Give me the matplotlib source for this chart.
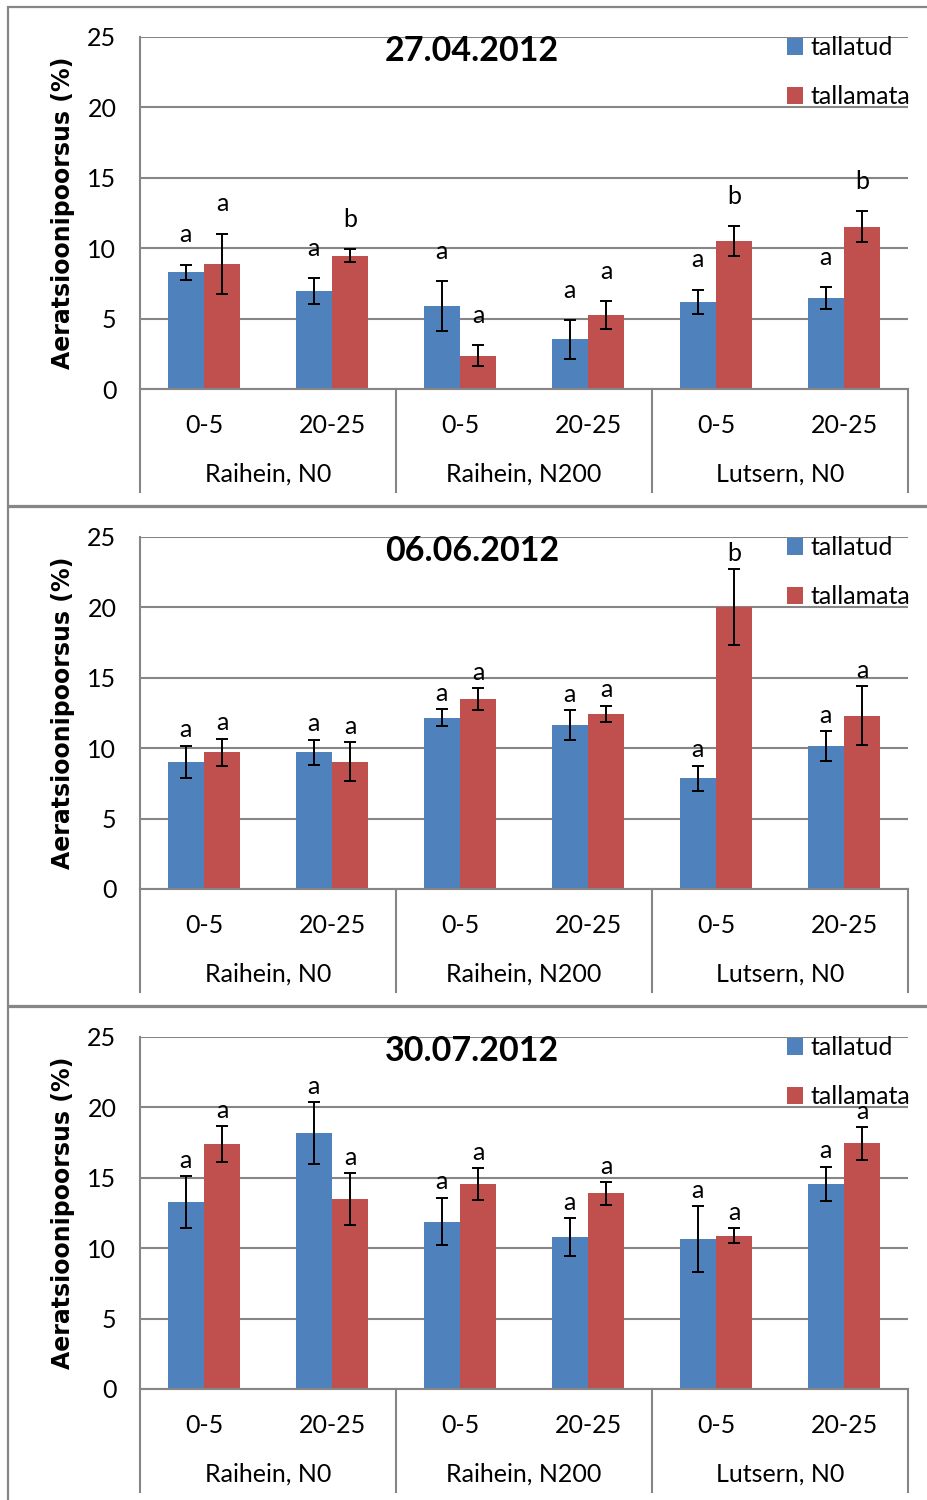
import numpy as np
import matplotlib
matplotlib.use('Agg')
import matplotlib.pyplot as plt
from matplotlib.patches import Rectangle

plt.rcParams['font.family'] = ['Lato', 'DejaVu Sans']

# categories
depths = ['0-5', '20-25', '0-5', '20-25', '0-5', '20-25']
groups = ['Raihein, N0', 'Raihein, N200', 'Lutsern, N0']
dates = ['27.04.2012', '06.06.2012', '30.07.2012']

# aeration porosity (%), mean and error per date
tallatud_0427 = [8.3, 6.95, 5.88, 3.52, 6.19, 6.45]
tallatud_0427_err = [0.53, 0.9, 1.77, 1.36, 0.87, 0.78]
tallamata_0427 = [8.88, 9.48, 2.36, 5.25, 10.49, 11.53]
tallamata_0427_err = [2.15, 0.48, 0.76, 0.97, 1.06, 1.11]
letters_t_0427 = ['a', 'a', 'a', 'a', 'a', 'a']
letters_m_0427 = ['a', 'b', 'a', 'a', 'b', 'b']

tallatud_0606 = [9.03, 9.71, 12.17, 11.63, 7.85, 10.14]
tallatud_0606_err = [1.16, 0.9, 0.6, 1.06, 0.9, 1.05]
tallamata_0606 = [9.71, 9.05, 13.47, 12.45, 20.0, 12.31]
tallamata_0606_err = [0.96, 1.4, 0.78, 0.57, 2.7, 2.1]
letters_t_0606 = ['a', 'a', 'a', 'a', 'a', 'a']
letters_m_0606 = ['a', 'a', 'a', 'a', 'b', 'a']

tallatud_0730 = [13.28, 18.19, 11.89, 10.8, 10.66, 14.58]
tallatud_0730_err = [1.84, 2.2, 1.69, 1.35, 2.32, 1.2]
tallamata_0730 = [17.39, 13.49, 14.56, 13.89, 10.89, 17.44]
tallamata_0730_err = [1.3, 1.84, 1.11, 0.8, 0.53, 1.16]
letters_t_0730 = ['a', 'a', 'a', 'a', 'a', 'a']
letters_m_0730 = ['a', 'a', 'a', 'a', 'a', 'a']

panels = [
    (dates[0], tallatud_0427, tallatud_0427_err, tallamata_0427, tallamata_0427_err, letters_t_0427, letters_m_0427),
    (dates[1], tallatud_0606, tallatud_0606_err, tallamata_0606, tallamata_0606_err, letters_t_0606, letters_m_0606),
    (dates[2], tallatud_0730, tallatud_0730_err, tallamata_0730, tallamata_0730_err, letters_t_0730, letters_m_0730),
]
letter_pad = [16, 6, 6]  # points above the error bar

BLUE = '#4F81BD'
RED = '#C0504D'
GRAY = '#868686'

W, H = 927, 1500
fig = plt.figure(figsize=(W / 100, H / 100), dpi=100)


def rect(x0, y0, x1, y1):
    return [x0 / W, 1 - y1 / H, (x1 - x0) / W, (y1 - y0) / H]


x = np.arange(len(depths))
w = 0.285
ax_h = 389 - 37

for i, (date, t, t_err, m, m_err, lt, lm) in enumerate(panels):
    top = 500 * i

    # chart border
    fig.add_artist(Rectangle((8 / W, 1 - (top + 506) / H), 940 / W, 499 / H,
                             transform=fig.transFigure, fill=False,
                             edgecolor=GRAY, lw=1.6))

    ax = fig.add_axes(rect(140, top + 37, 908, top + 389))
    ekw = dict(ecolor='black', elinewidth=1.4, capsize=4.5, capthick=1.4)
    ax.bar(x - w / 2, t, w, yerr=t_err, color=BLUE, error_kw=ekw, label='tallatud', zorder=2)
    ax.bar(x + w / 2, m, w, yerr=m_err, color=RED, error_kw=ekw, label='tallamata', zorder=2)

    for xs, vals, errs, labs in [(x - w / 2, t, t_err, lt), (x + w / 2, m, m_err, lm)]:
        for xi, v, e, lab in zip(xs, vals, errs, labs):
            ax.annotate(lab, (xi, v + e), xytext=(0, letter_pad[i]), textcoords='offset points',
                        ha='center', va='baseline', fontsize=18)

    ax.set_xlim(-0.5, 5.5)
    ax.set_ylim(0, 25)
    ax.set_yticks(np.arange(0, 26, 5))
    ax.set_axisbelow(True)
    ax.yaxis.grid(True, color=GRAY, lw=1.5)
    for s in ['top', 'right']:
        ax.spines[s].set_visible(False)
    for s in ['left', 'bottom']:
        ax.spines[s].set_color(GRAY)
        ax.spines[s].set_linewidth(1.5)
    ax.tick_params(axis='y', length=0, pad=17, labelsize=18)
    ax.set_xticks(x, depths)
    ax.tick_params(axis='x', length=0, pad=18, labelsize=18)

    # category axis with group separators
    trans = ax.get_xaxis_transform()
    for s in [-0.5, 1.5, 3.5, 5.5]:
        ax.plot([s, s], [0, -103 / ax_h], transform=trans, clip_on=False,
                color=GRAY, lw=1.5)
    for g, name in enumerate(groups):
        ax.text(2 * g + 0.5, -85 / ax_h, name, transform=trans,
                ha='center', va='center', fontsize=18)

    ax.set_ylabel('Aeratsioonipoorsus (%)', fontsize=17, fontweight='bold',
                  family=['DejaVu Sans'])
    ax.yaxis.set_label_coords(-65 / 768, 0.5)

    ax.text(332 / 768, 1 - 14 / ax_h, date, transform=ax.transAxes,
            ha='center', va='center', fontsize=24.5, fontweight='bold')

    ax.legend(loc='upper left', bbox_to_anchor=(647 / 768, 1 + 1 / ax_h),
              frameon=False, fontsize=18, handlelength=0.65, handleheight=0.65,
              handletextpad=0.3, labelspacing=1.05, borderpad=0, borderaxespad=0)

fig.savefig('out.png', dpi=100)
